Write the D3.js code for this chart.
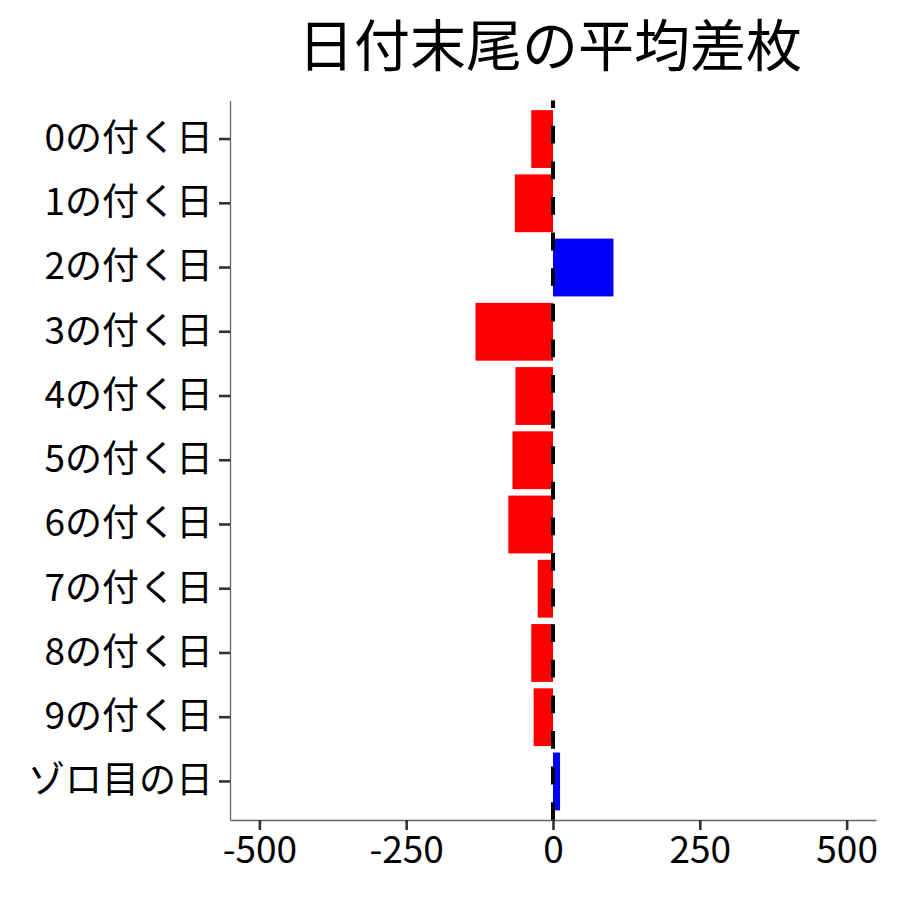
<!DOCTYPE html>
<html lang="ja">
<head>
<meta charset="utf-8">
<title>日付末尾の平均差枚</title>
<script src="https://cdn.jsdelivr.net/npm/d3@7"></script>
<style>
  body { margin: 0; background: #fff; }
  text { font-family: "Noto Sans CJK JP", "Noto Sans", sans-serif; fill: #000; }
  .axis path.domain { stroke: #666; stroke-width: 1.3px; }
  .axis line { stroke: #333; stroke-width: 2.6px; }
  .axis text { font-size: 37px; fill: #000; }
</style>
</head>
<body>
<svg width="900" height="900"></svg>
<script>
// categories and values
const categories = ["0の付く日", "1の付く日", "2の付く日", "3の付く日", "4の付く日",
                    "5の付く日", "6の付く日", "7の付く日", "8の付く日", "9の付く日", "ゾロ目の日"];
const avgDiff = [-37, -65, 103, -132, -64, -69, -76, -26, -37, -33, 12];
const xTicks = [-500, -250, 0, 250, 500];
const title = "日付末尾の平均差枚";

const svg = d3.select("svg");
const pLeft = 230, pRight = 876, pTop = 100.5, pBottom = 820;

const x = d3.scaleLinear().domain([-550, 550]).range([pLeft, pRight]);
const y = d3.scaleBand()
  .domain(categories)
  .range([pTop, pBottom])
  .paddingInner(0.1)
  .paddingOuter(0.15);

// bars
svg.append("g")
  .selectAll("rect")
  .data(categories)
  .enter()
  .append("rect")
    .attr("x", (d, i) => x(Math.min(0, avgDiff[i])))
    .attr("width", (d, i) => Math.abs(x(avgDiff[i]) - x(0)))
    .attr("y", d => y(d))
    .attr("height", y.bandwidth())
    .attr("fill", (d, i) => avgDiff[i] < 0 ? "#ff0000" : "#0000ff");

// zero line, dashed
svg.append("line")
  .attr("x1", x(0)).attr("x2", x(0))
  .attr("y1", pBottom).attr("y2", pTop)
  .attr("stroke", "#000")
  .attr("stroke-width", 4)
  .attr("stroke-dasharray", "17.8,17.8");

// axes (plain hyphen for negatives, like the original)
const xAxis = d3.axisBottom(x)
  .tickValues(xTicks)
  .tickFormat(d => String(d))
  .tickSize(10).tickSizeOuter(0).tickPadding(5);
svg.append("g")
  .attr("class", "axis")
  .attr("transform", `translate(0,${pBottom})`)
  .call(xAxis)
  .selectAll("text").attr("dy", "0.76em");

const yAxis = d3.axisLeft(y).tickSize(11).tickSizeOuter(0).tickPadding(6);
svg.append("g")
  .attr("class", "axis")
  .attr("transform", `translate(${pLeft},0)`)
  .call(yAxis);

// title
svg.append("text")
  .attr("x", (pLeft + pRight) / 2 - 3)
  .attr("y", 66)
  .attr("text-anchor", "middle")
  .style("font-size", "56px")
  .text(title);
</script>
</body>
</html>
